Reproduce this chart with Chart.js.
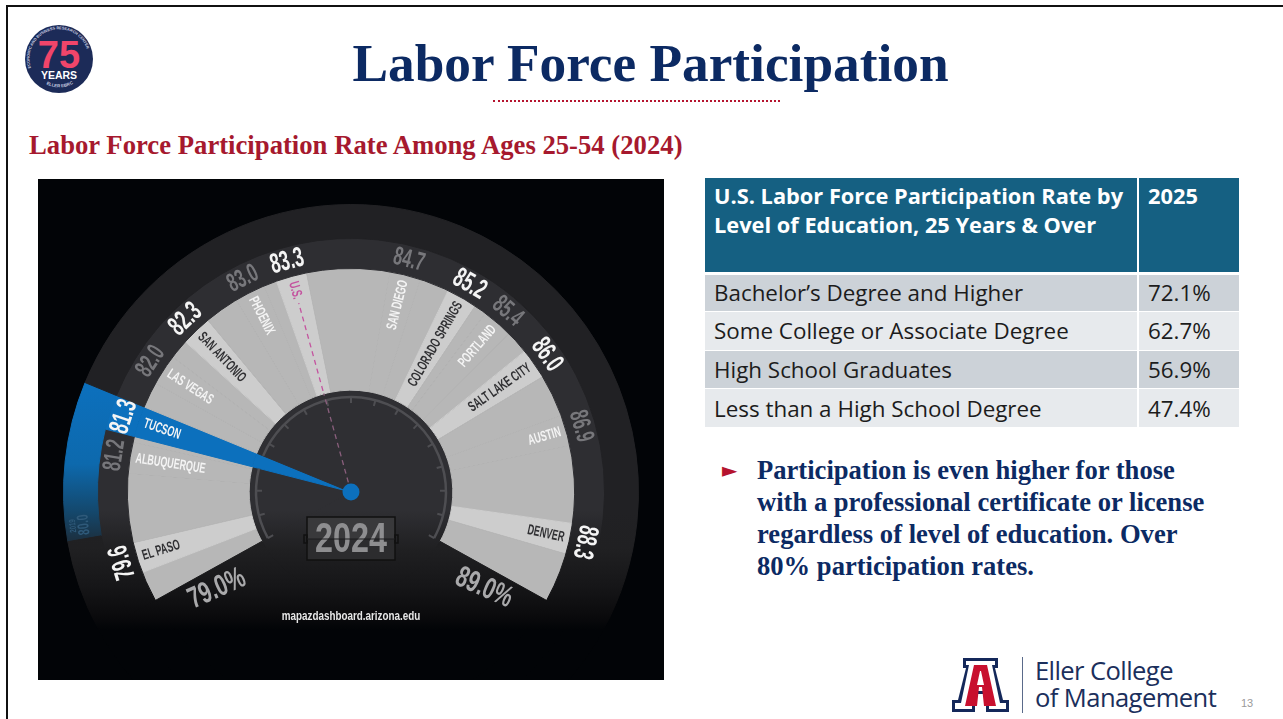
<!DOCTYPE html>
<html>
<head>
<meta charset="utf-8">
<title>Labor Force Participation</title>
<script src="https://cdn.jsdelivr.net/npm/chart.js@4"></script>
<style>
  html, body { margin: 0; padding: 0; background: #fff; }
  #slide { position: relative; width: 1283px; height: 719px; overflow: hidden; background: #fff; }
  #frameTop { position: absolute; left: 6px; top: 5px; right: 0; height: 2px; background: #111; }
  #frameLeft { position: absolute; left: 6px; top: 5px; bottom: 0; width: 2px; background: #111; }
  #title { position: absolute; left: 0; top: 33px; width: 1301px; text-align: center; font: bold 53.3px "Liberation Serif", serif; color: #0c2a63; }
  #rule { position: absolute; left: 493px; top: 100px; width: 287px; border-top: 2px dotted #b5132e; }
  #subtitle { position: absolute; left: 29px; top: 130px; font: bold 26.7px "Liberation Serif", serif; color: #a6192e; white-space: nowrap; }
  #gaugeBox { position: absolute; left: 38px; top: 179px; width: 626px; height: 501px; overflow: hidden; background: #020407; }
  #gauge { display: block; }
  #eduTable { position: absolute; left: 705px; top: 178px; width: 534px; border-collapse: collapse; font: 22px "Open Sans", sans-serif; color: #1c1c1c; table-layout: fixed; }
  #eduTable th { background: #156082; color: #fff; font-weight: 700; font-size: 21.8px; line-height: 29px; text-align: left; vertical-align: top; padding: 3px 8px 0 9px; height: 95px; box-sizing: border-box; border-right: 2px solid #fff; border-bottom: 3px solid #fff; white-space: nowrap; }
  #eduTable td { height: 38.6px; padding: 0 9px; box-sizing: border-box; border-right: 2px solid #fff; border-bottom: 1.5px solid #fff; font-size: 22.4px; white-space: nowrap; }
  #eduTable th:last-child, #eduTable td:last-child { border-right: 0; }
  #eduTable tr.odd td { background: #ccd2d8; }
  #eduTable tr.even td { background: #e7eaed; }
  #bullet { position: absolute; left: 722px; top: 458px; font: 20px "DejaVu Sans", sans-serif; color: #b5132e; }
  #note { position: absolute; left: 757px; top: 454px; font: bold 26.6px/32px "Liberation Serif", serif; color: #0c2a63; white-space: nowrap; }
  #badge { position: absolute; left: 24px; top: 24px; }
  #uaLogo { position: absolute; left: 951px; top: 657px; }
  #logoBar { position: absolute; left: 1022px; top: 657px; width: 1px; height: 56px; background: #5a6a8a; }
  #logoText { position: absolute; left: 1035px; top: 657px; font: 25.6px/27px "Open Sans", sans-serif; letter-spacing: -0.6px; color: #1b2f5c; white-space: nowrap; }
  #pageNo { position: absolute; left: 1241px; top: 697px; font: 11px "Liberation Sans", sans-serif; color: #9a9a9a; }
</style>
</head>
<body>
<div id="slide">
  <div id="frameTop"></div>
  <div id="frameLeft"></div>
  <svg id="badge" width="70" height="70" viewBox="0 0 70 70">
    <circle cx="35" cy="35" r="34" fill="#1c2b58"/>
    <defs><path id="badgeArc" d="M 7 44 A 29.5 29.5 0 1 1 63 44"/><path id="badgeLow" d="M 15 55 A 28 28 0 0 0 55 55"/></defs>
    <text font-family="Liberation Sans" font-size="3.9" font-weight="bold" fill="#c9cde0"><textPath href="#badgeArc">ECONOMIC AND BUSINESS RESEARCH CENTER</textPath></text>
    <text font-family="Liberation Sans" font-size="4.4" font-weight="bold" fill="#c9cde0"><textPath href="#badgeLow" startOffset="20%">ELLER EBRC</textPath></text>
    <text x="35" y="44" text-anchor="middle" font-family="Liberation Sans" font-size="38" font-weight="bold" fill="#f0456a">75</text>
    <text x="35" y="54.5" text-anchor="middle" font-family="Liberation Sans" font-size="10.5" font-weight="bold" fill="#fff">YEARS</text>
  </svg>
  <div id="title">Labor Force Participation</div>
  <div id="rule"></div>
  <div id="subtitle">Labor Force Participation Rate Among Ages 25-54 (2024)</div>
  <div id="gaugeBox"><canvas id="gauge" width="626" height="626"></canvas></div>
  <table id="eduTable">
    <colgroup><col style="width:433px"><col style="width:101px"></colgroup>
    <thead><tr><th id="eduHead"></th><th id="eduYear"></th></tr></thead>
    <tbody id="eduBody"></tbody>
  </table>
  <div id="bullet">►</div>
  <div id="note">Participation is even higher for those<br>with a professional certificate or license<br>regardless of level of education. Over<br>80% participation rates.</div>
  <svg id="uaLogo" width="60" height="56" viewBox="0 0 60 56">
    <path fill="#14285a" d="M12 1H47V11H44L52 43H58V55H35V43H38L37 37H22L21 43H24V55H1V43H7L15 11H12Z"/>
    <path fill="#fff" d="M15 4H44V8H41L49 46H55V52H38V46H41L39 34H20L18 46H21V52H4V46H10L18 8H15Z"/>
    <path fill="#c8102e" d="M23 8H36L45 49H33L31 30H28L26 49H14Z"/>
    <path fill="#fff" d="M29 14H30L33 28H26Z"/>
  </svg>
  <div id="logoBar"></div>
  <div id="logoText">Eller College<br>of Management</div>
  <div id="pageNo">13</div>
</div>

<script>
// gauge data, in the order the cities sit around the dial
const cities = ['EL PASO', 'ALBUQUERQUE', 'TUCSON', 'LAS VEGAS', 'SAN ANTONIO', 'PHOENIX', 'U.S.',
    'SAN DIEGO', 'COLORADO SPRINGS', 'PORTLAND', 'SALT LAKE CITY', 'AUSTIN', 'DENVER'];
const rates = [79.6, 81.2, 81.3, 82.0, 82.3, 83.0, 83.3, 84.7, 85.2, 85.4, 86.0, 86.9, 88.3];
// where each city's wedge sits when read against the 79-89 dial
const dialReadings = [79.50, 80.59, 80.99, 81.61, 82.16, 82.87, 83.35, 84.59, 85.25, 85.72, 86.31, 87.11, 88.29];
const dialMin = 79.0;
const dialMax = 89.0;
const priorYear = '2019';
const priorRate = 80.0;
const currentYear = '2024';

// table data
const eduHeader = 'U.S. Labor Force Participation Rate by<br>Level of Education, 25 Years & Over';
const eduYear = '2025';
const eduLevels = ['Bachelor’s Degree and Higher', 'Some College or Associate Degree', 'High School Graduates', 'Less than a High School Degree'];
const eduRates = ['72.1%', '62.7%', '56.9%', '47.4%'];

document.getElementById('eduHead').innerHTML = eduHeader;
document.getElementById('eduYear').textContent = eduYear;
document.getElementById('eduBody').innerHTML = eduLevels.map((lvl, i) =>
    `<tr class="${i % 2 ? 'even' : 'odd'}"><td>${lvl}</td><td>${eduRates[i]}</td></tr>`).join('');

// the dial covers 238 degrees, the rings carry on round the bottom to close the circle
const sweep = 238;
const wrap = dialMin + (dialMax - dialMin) * 360 / sweep;
const halfBand = 4 / (sweep / (dialMax - dialMin));
const gaugeFont = '"Liberation Sans", sans-serif';
const lightBands = ['EL PASO', 'SAN ANTONIO', 'U.S.', 'COLORADO SPRINGS', 'SALT LAKE CITY', 'DENVER'];
const tucson = cities.indexOf('TUCSON');
const usIdx = cities.indexOf('U.S.');
const needleStart = dialReadings[tucson] - halfBand;
const needleEnd = dialReadings[tucson] + halfBand;
const blue = '#0c70bd';

const ctx = document.getElementById('gauge').getContext('2d');

// dark ring colours fade out towards the bottom of the panel
function fade(color) {
    const g = ctx.createLinearGradient(0, 0, 0, 626);
    g.addColorStop(0, color);
    g.addColorStop(0.53, color);
    g.addColorStop(0.59, '#202022');
    g.addColorStop(0.65, '#161618');
    g.addColorStop(0.7, '#0a0a0c');
    g.addColorStop(0.72, '#020407');
    return g;
}

const blueBand = ctx.createLinearGradient(0, 204, 0, 366);
blueBand.addColorStop(0, blue);
blueBand.addColorStop(0.5, '#0d69ad');
blueBand.addColorStop(0.8, '#14476b');
blueBand.addColorStop(1, '#1d2c39');

// grey ring: a segment for every city and the gaps between, then the bottom gap
function bandData() {
    const out = [];
    let pos = dialMin;
    dialReadings.forEach(v => {
        out.push(v - halfBand - pos, halfBand * 2);
        pos = v + halfBand;
    });
    out.push(dialMax - pos, wrap - dialMax);
    return out;
}

function bandColors() {
    const out = [];
    cities.forEach((c, i) => {
        out.push('#b7b7b7', i === tucson ? blue : (lightBands.includes(c) ? '#cdcdcd' : '#b7b7b7'));
    });
    out.push('#b7b7b7', fade('#1c1c1f'));
    return out;
}

// inner and rate rings only change colour under the needle
const needleData = [needleStart - dialMin, needleEnd - needleStart, wrap - needleEnd];

// the outer ring has the blue trail from the 2019 mark up to the needle
const trailStart = priorRate - 0.2;
const trailData = [needleEnd - trailStart, wrap - dialMin - (needleEnd - trailStart)];

function squeezed(c, text, x, y, size, squeeze) {
    c.save();
    c.translate(x, y);
    c.scale(squeeze, 1);
    c.font = `bold ${size}px ${gaugeFont}`;
    c.fillText(text, 0, 0);
    c.restore();
}

const gaugeLabels = {
    id: 'gaugeLabels',
    afterDatasetsDraw(chart) {
        const c = chart.ctx;
        const bandArcs = chart.getDatasetMeta(2).data;
        const first = bandArcs[0];
        const needle = bandArcs[tucson * 2 + 1];
        const cx = first.x, cy = first.y;
        const theta = arc => (arc.startAngle + arc.endAngle) / 2 + Math.PI / 2;

        c.save();
        c.translate(cx, cy);
        c.textBaseline = 'middle';

        // rim and ticks of the hub, the needle lies on top of them
        const start = first.startAngle;
        const end = bandArcs[bandArcs.length - 2].endAngle;
        c.strokeStyle = '#4e4e52';
        c.lineWidth = 2.5;
        c.beginPath();
        c.arc(0, 0, 95, start, needle.startAngle);
        c.stroke();
        c.beginPath();
        c.arc(0, 0, 95, needle.endAngle, end);
        c.stroke();
        c.lineWidth = 2;
        for (let i = 0; i <= 16; i++) {
            const a = start + (end - start) * i / 16;
            if (a > needle.startAngle && a < needle.endAngle) continue;
            c.beginPath();
            c.moveTo(Math.cos(a) * 95, Math.sin(a) * 95);
            c.lineTo(Math.cos(a) * 89, Math.sin(a) * 89);
            c.stroke();
        }

        // dashed line for the U.S. rate, muted where it crosses the hub
        const usT = theta(bandArcs[usIdx * 2 + 1]);
        c.save();
        c.rotate(usT);
        c.lineWidth = 1.3;
        c.setLineDash([5, 4]);
        c.strokeStyle = '#8a5f7d';
        c.beginPath();
        c.moveTo(0, -10);
        c.lineTo(0, -102);
        c.stroke();
        c.strokeStyle = '#c4549f';
        c.beginPath();
        c.moveTo(0, -105);
        c.lineTo(0, -196);
        c.stroke();
        c.restore();

        cities.forEach((city, i) => {
            const t = theta(bandArcs[i * 2 + 1]);
            const bright = lightBands.includes(city) || city === 'TUCSON';

            // rate, following the curve of the ring
            c.save();
            c.rotate(t);
            c.textAlign = 'center';
            c.fillStyle = bright ? '#f4f4f4' : '#77777b';
            squeezed(c, rates[i].toFixed(1), 0, -239, bright ? 28 : 26, 0.62);
            c.restore();

            // city name, running along the radius and starting at the outer edge
            c.save();
            const left = t < 0;
            c.rotate(left ? t + Math.PI / 2 : t - Math.PI / 2);
            c.textAlign = left ? 'left' : 'right';
            c.fillStyle = city === 'U.S.' ? '#c4549f' : (lightBands.includes(city) ? '#303033' : '#f4f4f4');
            squeezed(c, city, left ? -218 : 218, 0, 14.5, 0.62);
            c.restore();
        });

        // hub of the needle
        c.fillStyle = blue;
        c.beginPath();
        c.arc(0, 0, 8.5, 0, Math.PI * 2);
        c.fill();

        // year counter
        c.fillStyle = '#39393b';
        c.fillRect(-44, 25, 88, 22);
        c.fillStyle = '#2c2c2e';
        c.fillRect(-44, 47, 88, 21);
        c.strokeStyle = '#111';
        c.lineWidth = 1.5;
        c.strokeRect(-44, 25, 88, 43);
        c.strokeRect(-47, 43, 3, 8);
        c.strokeRect(44, 43, 3, 8);
        c.textAlign = 'center';
        c.fillStyle = '#8e8e90';
        squeezed(c, currentYear, 0, 48, 42, 0.77);
        c.strokeStyle = '#1c1c1e';
        c.lineWidth = 1;
        c.beginPath();
        c.moveTo(-44, 47);
        c.lineTo(44, 47);
        c.stroke();

        // ends of the dial
        [[dialMin, -134, 97, -0.42], [dialMax, 133, 96, 0.42]].forEach(([v, x, y, rot]) => {
            c.save();
            c.translate(x, y);
            c.rotate(rot);
            c.fillStyle = '#a9a9ab';
            squeezed(c, v.toFixed(1) + '%', 0, 0, 30, 0.7);
            c.restore();
        });

        // 2019 mark on the blue trail
        c.save();
        c.translate(-270, 33);
        c.rotate(-1.68);
        c.fillStyle = '#2f5a7a';
        squeezed(c, priorRate.toFixed(1), 0, 3, 16, 0.66);
        squeezed(c, priorYear, 0, -8, 9, 0.66);
        c.restore();

        c.fillStyle = '#e6e6e6';
        squeezed(c, 'mapazdashboard.arizona.edu', 0, 124, 13.5, 0.73);
        c.restore();
    }
};

new Chart(ctx, {
    type: 'doughnut',
    data: {
        labels: cities,
        datasets: [
            {
                data: trailData,
                backgroundColor: [blueBand, fade('#212124')],
                borderColor: [blueBand, fade('#212124')],
                rotation: -119 + (trailStart - dialMin) * sweep / (dialMax - dialMin),
                weight: 34
            },
            {
                data: needleData,
                backgroundColor: [fade('#2e2e32'), blue, fade('#2e2e32')],
                borderColor: [fade('#2e2e32'), blue, fade('#2e2e32')],
                weight: 30
            },
            { data: bandData(), backgroundColor: bandColors(), borderColor: bandColors(), weight: 122 },
            {
                data: needleData,
                backgroundColor: [fade('#2f2f33'), blue, fade('#2f2f33')],
                borderColor: [fade('#2f2f33'), blue, fade('#2f2f33')],
                weight: 102
            }
        ]
    },
    options: {
        responsive: false,
        animation: false,
        cutout: 0,
        rotation: -119,
        circumference: 360,
        layout: { padding: 25 },
        elements: { arc: { borderWidth: 1 } },
        plugins: { legend: { display: false }, tooltip: { enabled: false } }
    },
    plugins: [gaugeLabels]
});
</script>
</body>
</html>
